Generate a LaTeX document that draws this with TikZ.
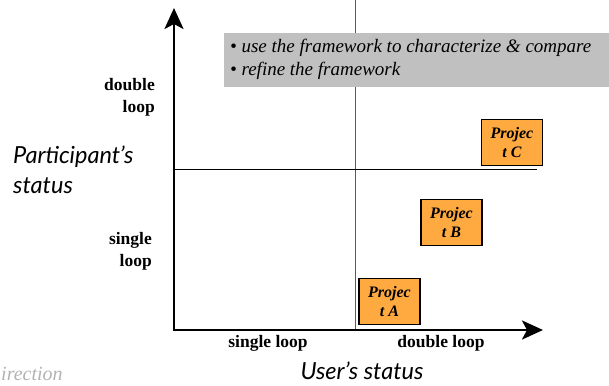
\documentclass[tikz,border=0pt]{standalone}
\usepackage{fontspec}
\setmainfont{Liberation Serif}
\newfontfamily\gillfont{Lato}
\usetikzlibrary{arrows.meta}
\definecolor{projorange}{RGB}{255,170,64}
\definecolor{notegray}{RGB}{192,192,192}

\begin{document}
\begin{tikzpicture}[x=1pt,y=-1pt,
    axis/.style={line width=2.8pt, {Stealth[length=21pt,width=19pt,inset=5pt]}-{Stealth[length=21pt,width=19pt,inset=5pt]}},
    quadrant/.style={line width=0.9pt},
    project/.style={draw=black, line width=1.6pt, fill=projorange, minimum width=61pt, minimum height=46pt, inner sep=0pt, align=center, font=\fontsize{16}{18.5}\selectfont\bfseries\itshape},
    level/.style={inner sep=0pt, align=right, font=\fontsize{17.5}{21.5}\selectfont\bfseries},
    status/.style={inner sep=0pt, align=left, font=\fontsize{23.5}{30}\selectfont\gillfont\itshape}]
    \useasboundingbox (0,0) rectangle (609,385);
    %% Axes
    \coordinate (origin) at (174,330);
    \coordinate (ytip) at (174,8);
    \coordinate (xtip) at (543,330);
    \coordinate (vtop) at (355,0);
    \coordinate (vbot) at (355,330);
    \coordinate (hleft) at (174,169);
    \coordinate (hright) at (537,169);
    %% Notes
    \node[fill=notegray, anchor=north west, minimum width=385pt, minimum height=54pt, inner sep=0pt] (notes) at (224,33) {};
    \draw[quadrant, gray!70!black] (vtop) -- (vbot);
    \fill[notegray] (notes.north west) rectangle (notes.south east);
    \node[anchor=west, inner sep=0pt, align=left, font=\fontsize{19}{23}\selectfont\itshape] (notetext) at (230,59.5)
        {\textbullet\ use the framework to characterize \& compare\\\textbullet\ refine the framework};
    \draw[quadrant] (hleft) -- (hright);
    \draw[axis] (ytip) -- (origin) -- (xtip);
    %% Projects
    \node[project] (projA) at (389.5,301.5) {Projec\\t A};
    \node[project] (projB) at (451.5,222.5) {Projec\\t B};
    \node[project] (projC) at (512,142.5) {Projec\\t C};
    %% Labels
    \node[level, anchor=east] (ydouble) at (155,97.5) {double\\loop};
    \node[level, anchor=east] (ysingle) at (152,251.5) {single\\loop};
    \node[level] (xsingle) at (268,343) {single loop};
    \node[level] (xdouble) at (441,343) {double loop};
    \node[status, anchor=west] (pstatus) at (13,170) {Participant’s\\status};
    \node[status] (ustatus) at (362,371) {User’s status};
    \node[anchor=base west, inner sep=0pt, text=gray!60, font=\fontsize{20}{20}\selectfont\itshape] (direction) at (1,380) {irection};
\end{tikzpicture}
\end{document}
